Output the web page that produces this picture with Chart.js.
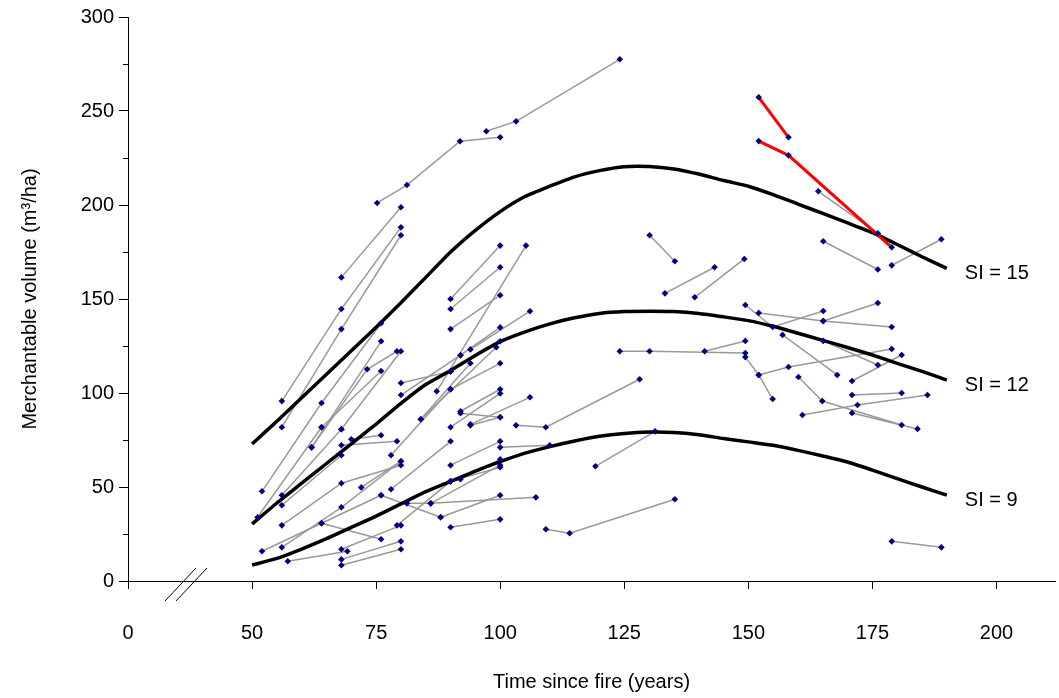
<!DOCTYPE html>
<html>
<head>
<meta charset="utf-8">
<script src="https://cdn.jsdelivr.net/npm/chart.js@4/dist/chart.umd.min.js"></script>
<style>
  body { margin: 0; background: #fff; }
  canvas { display: block; }
</style>
</head>
<body>
<canvas id="myChart" width="1059" height="698"></canvas>
<script>
//remeasured plots: each entry is one plot, [age, volume] per measurement
var plots = [
    [[68, 161.5], [80, 198.8]],
    [[75.2, 201.1], [81.2, 210.6], [91.9, 233.9], [100, 236]],
    [[97.2, 239.2], [103.2, 244.5], [124.1, 277.5]],
    [[56, 95.7], [68, 144.7], [80, 188.1]],
    [[56, 81.8], [68, 134], [80, 183.9]],
    [[52, 47.7], [64, 94.7], [76, 137.1]],
    [[90, 150], [100, 178.4]],
    [[90, 144.7], [100, 166.9]],
    [[90, 134], [100, 152]],
    [[52, 15.8], [64, 30.7], [76, 45.6]],
    [[103.2, 82.8], [109.2, 81.8], [128.1, 107.3]],
    [[100, 71.1], [110, 72.2]],
    [[90, 61.6], [100, 74.3]],
    [[78, 48.8], [90, 74.3]],
    [[88, 33.9], [100, 45.6]],
    [[90, 28.6], [100, 32.8]],
    [[109.2, 27.5], [114, 25.4], [135.2, 43.5]],
    [[119.2, 61], [131.2, 79.6]],
    [[81.2, 41.3], [86, 41.3], [107.2, 44.5]],
    [[130.1, 183.9], [135.2, 170.1]],
    [[133.2, 153], [143.2, 166.9]],
    [[139.2, 150.9], [149.2, 171.3]],
    [[124.1, 122.2], [130.1, 122.2], [149.4, 121.3]],
    [[141.2, 122.2], [149.4, 127.7]],
    [[164.1, 207.3], [176.1, 184.9]],
    [[165.1, 180.7], [176.1, 165.7]],
    [[178.9, 167.9], [188.9, 181.8]],
    [[149.4, 146.8], [154.9, 135.1], [165.1, 143.6]],
    [[152.1, 142.6], [165.1, 138.3], [178.9, 135.1]],
    [[165.1, 138.3], [176.1, 147.9]],
    [[156.9, 130.9], [167.9, 109.6]],
    [[165.1, 127.7], [176.1, 114.9]],
    [[149.4, 119.1], [152.1, 109.6], [154.9, 96.8]],
    [[152.1, 109.6], [158.1, 113.8], [178.9, 123.4]],
    [[170.9, 106.4], [180.9, 120.2]],
    [[170.9, 98.9], [180.9, 100]],
    [[160.9, 88.3], [172, 93.6], [186.1, 98.9]],
    [[160.1, 108.5], [164.9, 95.7], [180.9, 83]],
    [[170.9, 89.4], [184.1, 80.9]],
    [[178.9, 21.1], [188.9, 17.9]],
    [[87.2, 100.9], [105.2, 178.4]],
    [[94, 123.2], [106, 143.5]],
    [[92, 120.1], [100, 134.9]],
    [[90, 111.5], [100, 127.5]],
    [[84, 86], [99.2, 124.3]],
    [[90, 102], [100, 115.8]],
    [[92, 90.3], [100, 102]],
    [[92, 89.2], [100, 87.1]],
    [[94, 83.3], [106, 97.7]],
    [[94, 82.8], [100, 87.1]],
    [[90, 81.8], [100, 99.8]],
    [[90, 53], [92, 54.1], [100, 64.7]],
    [[86, 41.3], [100, 61.6]],
    [[90, 53], [100, 60.5]],
    [[56, 45.6], [68, 80.7]],
    [[56, 40.3], [68, 66.9]],
    [[51.1, 33.9], [64, 81.8]],
    [[56, 29.6], [68, 52], [80, 61.6]],
    [[56, 17.9], [68, 39.2], [80, 63.7]],
    [[57.2, 10.5], [69.2, 15.8]],
    [[68, 16.9], [80, 29.6]],
    [[68, 11.5], [80, 21.1]],
    [[68, 8.4], [80, 16.9]],
    [[64, 30.7], [76, 22.2]],
    [[62, 71.1], [73.2, 112.6], [79.2, 122.2]],
    [[64, 81.8], [76, 111.7]],
    [[68, 80.7], [80, 122.2]],
    [[70, 75.4], [76, 77.5]],
    [[68, 72.2], [79.2, 74.3]],
    [[72, 49.8], [80, 63.7]],
    [[76, 127.5], [62, 71.1]],
    [[78, 66.9], [90, 102]],
    [[79.2, 29.6], [90, 53]],
    [[80, 105.3], [90, 111.5]],
    [[80, 98.9], [92, 120.1]],
    [[84, 86], [94, 115.8]],
    [[76, 45.6], [88, 33.9]]
];

//plots with a red trajectory
var redPlots = [
    [[152.1, 257.3], [158.1, 236]],
    [[152.1, 234], [158.1, 226.4], [178.9, 177.5]]
];

//site index curves
var curveYears = [50, 55, 60, 65, 70, 75, 80, 85, 90, 95, 100, 105, 110, 115, 120,
    125, 130, 135, 140, 145, 150, 155, 160, 165, 170, 175, 180, 185, 190];
var si15 = [72.9, 85, 97.5, 110, 122.5, 135, 148, 161.5, 175, 186.5, 196.5, 204.5, 210, 215, 218.3,
    220.4, 220.5, 219.2, 216.5, 213, 210, 205.5, 200.5, 195.5, 190.5, 185.3, 179, 172.5, 166.3];
var si12 = [30.3, 41.5, 52, 62.5, 73, 83.5, 94.5, 104.5, 112, 120, 127.3, 132.5, 136.8, 140, 142.3,
    143.3, 143.5, 143.3, 142.3, 140.5, 138.5, 135.5, 131.8, 128, 124.2, 120.2, 115.8, 111.5, 106.9];
var si9 = [8.5, 12, 17, 22.5, 28.5, 34.5, 41, 47.5, 53, 58.5, 63.5, 68, 71.5, 74.5, 77,
    78.5, 79.2, 79, 77.8, 75.8, 74, 72.2, 69.5, 66.5, 63.3, 59, 54.5, 50, 45.7];
var curveLabels = ["SI = 15", "SI = 12", "SI = 9"];

var xTicks = [25, 50, 75, 100, 125, 150, 175, 200];
var yTicks = [0, 50, 100, 150, 200, 250, 300];
var yMinorTicks = [25, 75, 125, 175, 225, 275];

window.onload = main;

function toXY(list) {
    return list.map(function (p) { return {x: p[0], y: p[1]}; });
}

//small extras: minor y ticks, axis break and curve labels
var extras = {
    id: 'extras',
    afterDraw: function (chart) {
        var ctx = chart.ctx;
        var xs = chart.scales.x;
        var ys = chart.scales.y;
        ctx.save();
        ctx.strokeStyle = '#000';
        ctx.lineWidth = 1;
        yMinorTicks.forEach(function (v) {
            var py = Math.round(ys.getPixelForValue(v)) + 0.5;
            ctx.beginPath();
            ctx.moveTo(xs.left - 5, py);
            ctx.lineTo(xs.left, py);
            ctx.stroke();
        });
        //axis break
        var by = ys.bottom;
        ctx.beginPath();
        ctx.moveTo(165, by + 20);
        ctx.lineTo(196, by - 13);
        ctx.moveTo(176, by + 20);
        ctx.lineTo(207, by - 13);
        ctx.stroke();
        //curve labels
        ctx.fillStyle = '#000';
        ctx.font = '20px "Liberation Sans", Arial, sans-serif';
        ctx.textAlign = 'left';
        ctx.textBaseline = 'middle';
        [si15, si12, si9].forEach(function (c, i) {
            var px = xs.getPixelForValue(curveYears[curveYears.length - 1]) + 18;
            var py = ys.getPixelForValue(c[c.length - 1]) + 5;
            ctx.fillText(curveLabels[i], px, py);
        });
        ctx.restore();
    }
};

function main() {
    var ctx = document.getElementById("myChart").getContext("2d");
    Chart.defaults.font.family = '"Liberation Sans", Arial, sans-serif';
    Chart.defaults.font.size = 20;
    Chart.defaults.color = '#000';

    var datasets = [];
    //markers on top
    var allPts = [];
    plots.concat(redPlots).forEach(function (p) { allPts = allPts.concat(p); });
    datasets.push({
        data: toXY(allPts),
        showLine: false,
        pointStyle: 'rectRot',
        pointRadius: 3.3,
        pointBackgroundColor: '#000080',
        pointBorderColor: '#000080',
        pointBorderWidth: 0,
        order: 0
    });
    redPlots.forEach(function (p) {
        datasets.push({
            data: toXY(p), showLine: true, borderColor: '#ff0000', borderWidth: 3,
            pointRadius: 0, order: 1
        });
    });
    [si15, si12, si9].forEach(function (c) {
        datasets.push({
            data: curveYears.map(function (y, i) { return {x: y, y: c[i]}; }),
            showLine: true, borderColor: '#000', borderWidth: 3.5, pointRadius: 0,
            tension: 0.2, order: 2
        });
    });
    plots.forEach(function (p) {
        datasets.push({
            data: toXY(p), showLine: true, borderColor: '#999999', borderWidth: 1.5,
            pointRadius: 0, order: 3
        });
    });

    new Chart(ctx, {
        type: 'scatter',
        data: {datasets: datasets},
        options: {
            responsive: false,
            animation: false,
            events: [],
            layout: {padding: {top: 17, right: 0, left: 0, bottom: 0}},
            plugins: {legend: {display: false}, tooltip: {enabled: false}},
            scales: {
                x: {
                    type: 'linear',
                    min: 25,
                    max: 211.8,
                    afterBuildTicks: function (s) { s.ticks = xTicks.map(function (v) { return {value: v}; }); },
                    afterFit: function (s) { s.height = 117; },
                    ticks: {
                        padding: 32,
                        callback: function (v) { return v === 25 ? '0' : v; }
                    },
                    grid: {display: true, drawOnChartArea: false, drawTicks: true, tickLength: 8, color: '#000'},
                    border: {display: true, color: '#000', width: 1},
                    title: {display: true, text: 'Time since fire (years)', padding: {top: 0, bottom: 4}}
                },
                y: {
                    type: 'linear',
                    min: 0,
                    max: 300,
                    afterBuildTicks: function (s) { s.ticks = yTicks.map(function (v) { return {value: v}; }); },
                    afterFit: function (s) { s.width = 128; },
                    ticks: {padding: 5},
                    grid: {display: true, drawOnChartArea: false, drawTicks: true, tickLength: 9, color: '#000'},
                    border: {display: true, color: '#000', width: 1},
                    title: {display: true, text: 'Merchantable volume (m³/ha)', padding: {top: 18, bottom: 0}}
                }
            }
        },
        plugins: [extras]
    });
}
</script>
</body>
</html>
